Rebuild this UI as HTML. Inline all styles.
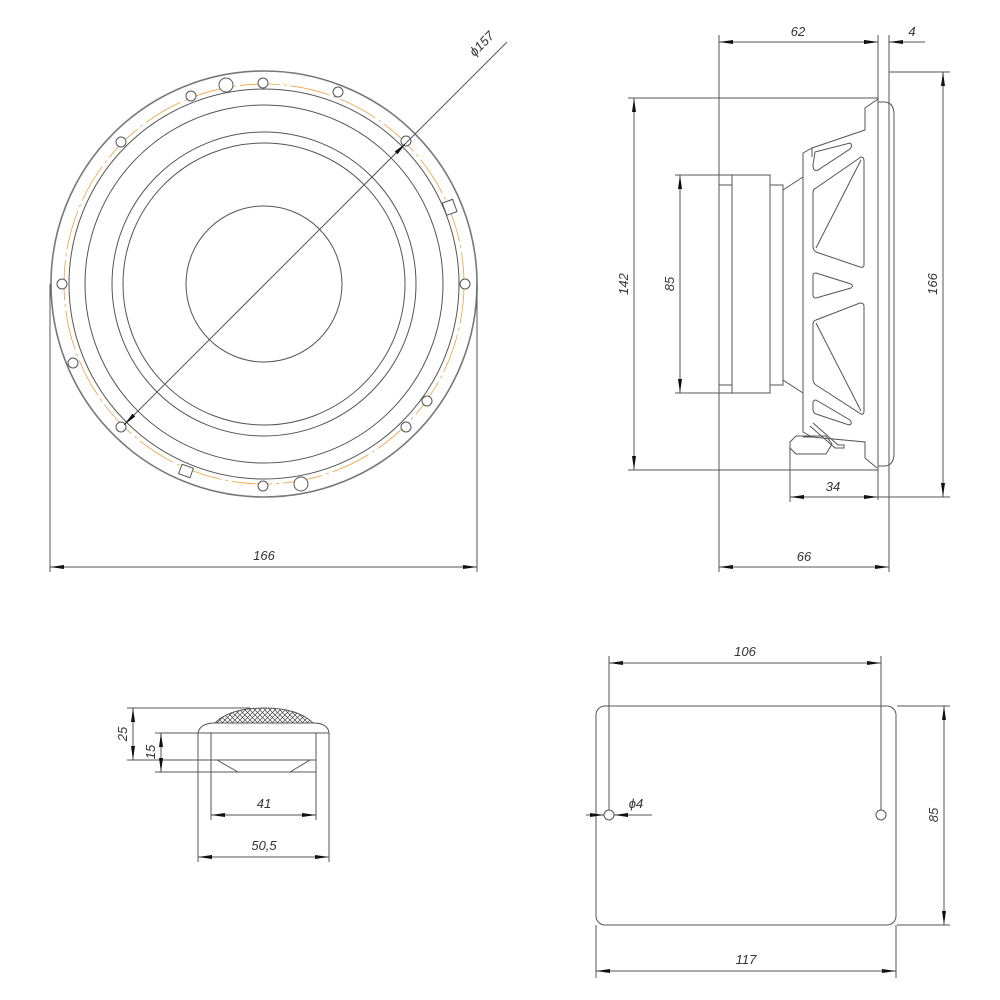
<!DOCTYPE html>
<html><head><meta charset="utf-8"><style>
html,body{margin:0;padding:0;background:#fff;}
svg{display:block}
text{font-family:"Liberation Sans",sans-serif;font-style:italic;font-size:13px;fill:#333;}
</style></head><body>
<svg width="1000" height="1000" viewBox="0 0 1000 1000" xmlns="http://www.w3.org/2000/svg">
<defs>
<marker id="a" viewBox="0 0 14 4" refX="14" refY="2" markerWidth="14" markerHeight="4" orient="auto-start-reverse" markerUnits="userSpaceOnUse"><path d="M0,0 L14,2 L0,4 z" fill="#111"/></marker>
<pattern id="h" width="5" height="5" patternUnits="userSpaceOnUse"><path d="M0,0 L5,5 M5,0 L0,5" stroke="#444" stroke-width="0.7"/></pattern>
</defs>
<g fill="none" stroke="#555" stroke-width="1">
<!-- FRONT VIEW -->
<circle cx="264" cy="284" r="213" stroke="#777" stroke-width="1.6"/>
<circle cx="264" cy="284" r="195"/>
<circle cx="264" cy="284" r="200" stroke="#f0a040" stroke-width="0.8" stroke-dasharray="40,4,3,4"/>
<circle cx="264" cy="284" r="179"/>
<circle cx="264" cy="284" r="152"/>
<circle cx="264" cy="284" r="141"/>
<circle cx="264" cy="284" r="78"/>
<g fill="#fff">
<circle cx="263" cy="83" r="5"/><circle cx="191" cy="96" r="5"/><circle cx="226" cy="85" r="7"/>
<circle cx="338" cy="92" r="5"/><circle cx="121" cy="142" r="5"/><circle cx="406" cy="141" r="5"/>
<circle cx="62" cy="284" r="5"/><circle cx="465" cy="284" r="5"/><circle cx="73" cy="363" r="5"/>
<circle cx="427" cy="401" r="5"/><circle cx="406" cy="427" r="5"/><circle cx="121" cy="427" r="5"/>
<circle cx="263" cy="486" r="5"/><circle cx="301" cy="484" r="7"/>
<rect x="444" y="201" width="11" height="13" transform="rotate(-20 449 207)"/>
<rect x="180" y="466" width="12" height="10" transform="rotate(20 186 471)"/>
</g>
<line x1="50" y1="284" x2="50" y2="572"/><line x1="477" y1="284" x2="477" y2="572"/>
<line x1="50" y1="567" x2="477" y2="567" marker-start="url(#a)" marker-end="url(#a)"/>
<line x1="507" y1="42" x2="406" y2="143"/>
<line x1="406" y1="143" x2="124" y2="425" marker-start="url(#a)" marker-end="url(#a)"/>

<!-- SIDE VIEW -->
<line x1="719" y1="35" x2="719" y2="572"/>
<line x1="878" y1="35" x2="878" y2="500"/>
<line x1="889" y1="35" x2="889" y2="572"/>
<line x1="719" y1="42" x2="878" y2="42" marker-start="url(#a)" marker-end="url(#a)"/>
<line x1="862" y1="42" x2="878" y2="42" marker-end="url(#a)"/>
<line x1="889" y1="42" x2="925" y2="42" marker-start="url(#a)"/>
<line x1="889" y1="72" x2="950" y2="72"/><line x1="878" y1="497" x2="950" y2="497"/>
<line x1="943" y1="72" x2="943" y2="497" marker-start="url(#a)" marker-end="url(#a)"/>
<line x1="628" y1="98" x2="878" y2="98"/><line x1="628" y1="470" x2="878" y2="470"/>
<line x1="634" y1="98" x2="634" y2="470" marker-start="url(#a)" marker-end="url(#a)"/>
<line x1="675" y1="175" x2="719" y2="175"/><line x1="675" y1="393" x2="719" y2="393"/>
<line x1="680" y1="175" x2="680" y2="393" marker-start="url(#a)" marker-end="url(#a)"/>
<line x1="790" y1="445" x2="790" y2="502"/>
<line x1="790" y1="497" x2="878" y2="497" marker-start="url(#a)" marker-end="url(#a)"/>
<line x1="719" y1="567" x2="889" y2="567" marker-start="url(#a)" marker-end="url(#a)"/>
<!-- speaker side -->
<path d="M878,102 L884,102 Q894,102 894,115 L894,453 Q894,466 884,466 L878,466"/>
<path d="M878,99 L865,108 L865,130 L812,148 L803,153 L803,432 L812,437 L865,442 L865,458 L877,468"/>
<path d="M812,148 L812,157"/><path d="M803,437 L812,437"/>
<rect x="719" y="175" width="51" height="218"/>
<line x1="732" y1="175" x2="732" y2="393"/>
<line x1="719" y1="185" x2="732" y2="185"/><line x1="719" y1="385" x2="732" y2="385"/>
<rect x="770" y="185" width="13" height="200"/>
<path d="M783,190 L803,177"/><path d="M783,380 L803,393"/>
<path d="M815,152 L850,143 Q853,145 850,149 L818,170 Q813,172 813,165 Z"/>
<path d="M816,188 L861,157 Q864,157 864,161 L864,265 Q864,268 860,267 L816,252 Q813,250 813,246 L813,193 Q813,189 816,188 Z"/>
<path d="M861,160 L816,248"/>
<path d="M816,273 L851,284 Q854,286 851,288 L816,298 Q813,298 813,295 L813,276 Q813,273 816,273 Z"/>
<path d="M816,320 L860,303 Q864,303 864,306 L864,411 Q864,415 861,414 L816,385 Q813,383 813,379 L813,324 Q813,321 816,320 Z"/>
<path d="M816,323 L861,411"/>
<path d="M816,400 L850,420 Q853,424 849,425 L816,414 Q813,413 813,409 L813,403 Q813,400 816,400 Z"/>
<path d="M790,442 L796,436 L826,436 L832,444 L826,454 L796,454 L790,448 Z"/>
<path d="M813,423 L838,445 L844,445 L844,448 L835,448 L810,426"/>

<!-- TWEETER -->
<path d="M198,733 Q200,723 215,723 L313,723 Q328,723 329,733 Z" fill="#fff"/>
<path d="M215,723 Q230,708 264,708 Q298,708 313,723 Z" fill="url(#h)"/>
<line x1="198" y1="733" x2="198" y2="862"/><line x1="329" y1="733" x2="329" y2="862"/>
<line x1="211" y1="733" x2="211" y2="820"/><line x1="316" y1="733" x2="316" y2="820"/>
<line x1="127" y1="708" x2="250" y2="708"/>
<line x1="127" y1="760" x2="316" y2="760"/>
<line x1="155" y1="733" x2="198" y2="733"/>
<line x1="155" y1="772" x2="316" y2="772"/>
<path d="M217,760 L238,772 M290,772 L310,760"/>
<line x1="133" y1="708" x2="133" y2="760" marker-start="url(#a)" marker-end="url(#a)"/>
<line x1="161" y1="733" x2="161" y2="772" marker-start="url(#a)" marker-end="url(#a)"/>
<line x1="211" y1="815" x2="316" y2="815" marker-start="url(#a)" marker-end="url(#a)"/>
<line x1="198" y1="857" x2="329" y2="857" marker-start="url(#a)" marker-end="url(#a)"/>

<!-- CUTOUT -->
<rect x="596" y="706" width="300" height="219" rx="9"/>
<circle cx="609" cy="815" r="5"/><circle cx="881" cy="815" r="5"/>
<line x1="609" y1="656" x2="609" y2="810"/><line x1="881" y1="656" x2="881" y2="810"/>
<line x1="609" y1="663" x2="881" y2="663" marker-start="url(#a)" marker-end="url(#a)"/>
<line x1="897" y1="706" x2="950" y2="706"/><line x1="897" y1="925" x2="950" y2="925"/>
<line x1="944" y1="706" x2="944" y2="925" marker-start="url(#a)" marker-end="url(#a)"/>
<line x1="596" y1="925" x2="596" y2="978"/><line x1="896" y1="925" x2="896" y2="978"/>
<line x1="596" y1="971" x2="896" y2="971" marker-start="url(#a)" marker-end="url(#a)"/>
<line x1="586" y1="815" x2="604" y2="815" marker-end="url(#a)"/>
<line x1="652" y1="815" x2="614" y2="815" marker-end="url(#a)"/>
</g>
<g>
<text x="264" y="560" text-anchor="middle">166</text>
<text x="482" y="48" text-anchor="middle" transform="rotate(-45 482 44)">ϕ157</text>
<text x="798" y="36" text-anchor="middle">62</text>
<text x="912" y="36" text-anchor="middle">4</text>
<text x="833" y="491" text-anchor="middle">34</text>
<text x="804" y="561" text-anchor="middle">66</text>
<text transform="translate(628,284) rotate(-90)" text-anchor="middle">142</text>
<text transform="translate(674,284) rotate(-90)" text-anchor="middle">85</text>
<text transform="translate(937,284) rotate(-90)" text-anchor="middle">166</text>
<text transform="translate(127,734) rotate(-90)" text-anchor="middle">25</text>
<text transform="translate(155,752) rotate(-90)" text-anchor="middle">15</text>
<text x="264" y="808" text-anchor="middle">41</text>
<text x="264" y="850" text-anchor="middle">50,5</text>
<text x="745" y="656" text-anchor="middle">106</text>
<text x="746" y="964" text-anchor="middle">117</text>
<text transform="translate(938,815) rotate(-90)" text-anchor="middle">85</text>
<text x="636" y="808" text-anchor="middle">ϕ4</text>
</g>
</svg>
</body></html>
